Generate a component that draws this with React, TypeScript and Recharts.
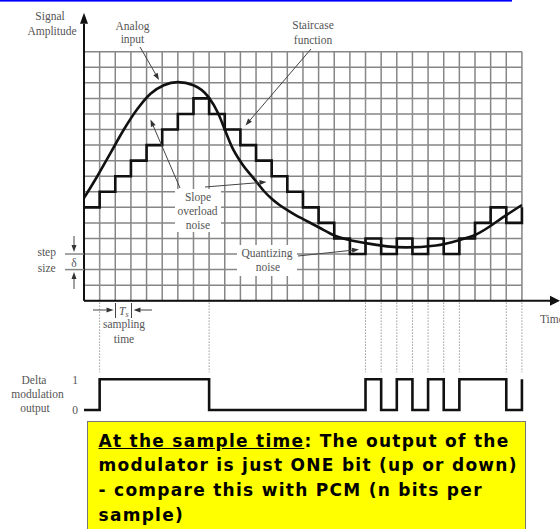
import React from "react";
import { ComposedChart, Line, XAxis, YAxis, ReferenceLine } from "recharts";

// sampling instants, one grid column per Ts
const sampleK = [0, 1, 2, 3, 4, 5, 6, 7, 8, 9, 10, 11, 12, 13, 14, 15, 16, 17, 18, 19, 20, 21, 22, 23, 24, 25, 26, 27, 28];
// staircase level (in step sizes) held from each sample to the next
const staircase = [6, 7, 8, 9, 10, 11, 12, 13, 12, 11, 10, 9, 8, 7, 6, 5, 4, 3, 4, 3, 4, 3, 4, 3, 4, 5, 6, 5, 6];
// delta modulator output bit for each sample period
const deltaBits = [0, 1, 1, 1, 1, 1, 1, 1, 0, 0, 0, 0, 0, 0, 0, 0, 0, 0, 1, 0, 1, 0, 1, 0, 1, 1, 1, 0, 1];

// analog input, in grid units
const analogK = [0, 0.85, 1.7, 2.55, 3.4, 4.25, 5.1, 6.0, 7.0, 7.95, 8.6, 9.0, 9.45, 10.1, 10.9, 11.5, 12.0, 12.5, 13.0, 13.5, 14.1, 15.0, 16.0, 18.0, 20.6, 22.5, 24.0, 25.0, 27.0, 28.0];
const analogAmp = [6.6, 8.0, 9.5, 11.0, 12.3, 13.3, 13.85, 14.05, 13.85, 13.1, 12.0, 11.0, 9.9, 8.8, 7.8, 7.05, 6.55, 6.15, 5.82, 5.52, 5.2, 4.72, 4.2, 3.7, 3.43, 3.55, 3.9, 4.22, 5.5, 6.15];

// samples where the output bit changes, marked with dotted guides
const transitionK = [1, 8, 18, 19, 20, 21, 22, 23, 24, 27, 28];

const gridRows = [0, 1, 2, 3, 4, 5, 6, 7, 8, 9, 10, 11, 12, 13, 14, 15, 16];
const gridCols = sampleK;

// page geometry
const W = 560;
const H = 529;
const ORIGIN_X = 84;
const ORIGIN_Y = 300.7;
const CELL_X = 15.64;
const CELL_Y = 15.56;
const BIT_LOW_Y = 410;
const BIT_HIGH_Y = 379.3;

const xDomain: [number, number] = [-ORIGIN_X / CELL_X, (W - ORIGIN_X) / CELL_X];
const ampDomain: [number, number] = [-(H - ORIGIN_Y) / CELL_Y, ORIGIN_Y / CELL_Y];
const bitPx = BIT_LOW_Y - BIT_HIGH_Y;
const bitDomain: [number, number] = [-(H - BIT_LOW_Y) / bitPx, BIT_LOW_Y / bitPx];

const stairData = sampleK.map((k, i) => ({ k, level: staircase[i] }));
const bitData = sampleK.map((k, i) => ({ k, bit: deltaBits[i] }));
const analogData = analogK.map((k, i) => ({ k, amp: analogAmp[i] }));

const INK = "#111";
const GRID = "#868686";
const NOTE = "#555";

function headPoints(x1: number, y1: number, x2: number, y2: number, len: number, wid: number) {
  const d = Math.hypot(x2 - x1, y2 - y1) || 1;
  const ux = (x2 - x1) / d;
  const uy = (y2 - y1) / d;
  const bx = x2 - ux * len;
  const by = y2 - uy * len;
  return {
    bx,
    by,
    pts: `${x2},${y2} ${bx - (uy * wid) / 2},${by + (ux * wid) / 2} ${bx + (uy * wid) / 2},${by - (ux * wid) / 2}`,
  };
}

// axis line with a filled head, used as a ReferenceLine shape
const axisArrow = (len: number, wid: number) => (p: any) => {
  const { bx, by, pts } = headPoints(p.x1, p.y1, p.x2, p.y2, len, wid);
  return (
    <g>
      <line x1={p.x1} y1={p.y1} x2={bx} y2={by} stroke={INK} strokeWidth={2} />
      <polygon points={pts} fill={INK} />
    </g>
  );
};

function Pointer({ x1, y1, x2, y2 }: { x1: number; y1: number; x2: number; y2: number }) {
  const { bx, by, pts } = headPoints(x1, y1, x2, y2, 7, 5);
  return (
    <g>
      <line x1={x1} y1={y1} x2={bx} y2={by} stroke="#444" strokeWidth={1} />
      <polygon points={pts} fill="#333" />
    </g>
  );
}

function Note({ x, y, children, anchor = "middle" }: { x: number; y: number; children: React.ReactNode; anchor?: "middle" | "start" }) {
  return (
    <text x={x} y={y} textAnchor={anchor} fontFamily="'Liberation Serif', serif" fontSize={11.5} fill={NOTE}>
      {children}
    </text>
  );
}

function Annotations() {
  return (
    <svg width={W} height={H} style={{ position: "absolute", left: 0, top: 0, pointerEvents: "none" }}>
      <rect x={0} y={0} width={512} height={1.6} fill="#0000ff" />

      <Note x={50} y={20}>Signal</Note>
      <Note x={52} y={34.5}>Amplitude</Note>

      <Note x={132.5} y={29.5}>Analog</Note>
      <Note x={132.5} y={43}>input</Note>
      <Pointer x1={140} y1={47} x2={159} y2={80} />

      <Note x={313} y={29}>Staircase</Note>
      <Note x={313} y={43.5}>function</Note>
      <Pointer x1={311} y1={49} x2={245.5} y2={125.5} />

      <rect x={175} y={189} width={46} height={43} fill="#fff" />
      <Note x={198} y={200.5}>Slope</Note>
      <Note x={197.5} y={215}>overload</Note>
      <Note x={198} y={229}>noise</Note>
      <Pointer x1={180} y1={188} x2={150.5} y2={119.5} />
      <Pointer x1={205} y1={187} x2={266.5} y2={182} />

      <rect x={237} y={245} width={60} height={31} fill="#fff" />
      <Note x={267} y={256.5}>Quantizing</Note>
      <Note x={268} y={271}>noise</Note>
      <Pointer x1={298} y1={256} x2={359} y2={249.5} />

      <Note x={46.7} y={256}>step</Note>
      <Note x={46.7} y={272}>size</Note>
      <line x1={65} y1={254} x2={84} y2={254} stroke={GRID} strokeWidth={1.5} />
      <line x1={65} y1={269.6} x2={84} y2={269.6} stroke={GRID} strokeWidth={1.5} />
      <Note x={74} y={266.5}>δ</Note>
      <Pointer x1={74} y1={236} x2={74} y2={252} />
      <Pointer x1={74} y1={289} x2={74} y2={272} />

      <Pointer x1={93} y1={310} x2={113.5} y2={310} />
      <line x1={115.5} y1={303} x2={115.5} y2={318} stroke="#444" strokeWidth={1} />
      <text x={119} y={315} fontFamily="'Liberation Serif', serif" fontSize={11.5} fill={NOTE} fontStyle="italic">
        T<tspan fontSize={8} dy={2}>s</tspan>
      </text>
      <line x1={131.5} y1={303} x2={131.5} y2={318} stroke="#444" strokeWidth={1} />
      <Pointer x1={152} y1={310} x2={133.5} y2={310} />
      <Note x={124} y={327.5}>sampling</Note>
      <Note x={124} y={342.5}>time</Note>

      <Note x={540} y={323} anchor="start">Time</Note>

      <Note x={34} y={383.5}>Delta</Note>
      <Note x={37.5} y={398}>modulation</Note>
      <Note x={35} y={412}>output</Note>
      <Note x={75} y={384}>1</Note>
      <Note x={75} y={414}>0</Note>
    </svg>
  );
}

function NoteBox() {
  return (
    <div
      style={{
        position: "absolute",
        left: 87,
        top: 420.7,
        width: 439,
        height: 130,
        boxSizing: "border-box",
        background: "#ffff00",
        border: "1.5px solid #777",
        padding: "6.9px 0 0 10.5px",
        fontFamily: "'DejaVu Sans', Verdana, sans-serif",
        fontWeight: "bold",
        fontSize: 17,
        letterSpacing: 1.28,
        lineHeight: "24.7px",
        whiteSpace: "nowrap",
        color: "#000",
      }}
    >
      <span style={{ textDecoration: "underline" }}>At the sample time</span>: The output of the
      <br />
      modulator is just ONE bit (up or down)
      <br />- compare this with PCM (n bits per
      <br />
      sample)
    </div>
  );
}

export default function App() {
  return (
    <div style={{ position: "absolute", left: 0, top: 0, width: W, height: H, overflow: "hidden", background: "#fff" }}>
      <ComposedChart width={W} height={H} margin={{ top: 0, right: 0, bottom: 0, left: 0 }}>
        <XAxis type="number" dataKey="k" domain={xDomain} allowDataOverflow hide />
        <YAxis yAxisId="amp" type="number" domain={ampDomain} allowDataOverflow hide />
        <YAxis yAxisId="bit" type="number" domain={bitDomain} allowDataOverflow hide />

        {gridRows.map((j) => (
          <ReferenceLine
            key={`r${j}`}
            yAxisId="amp"
            ifOverflow="visible"
            segment={[{ x: 0, y: j }, { x: 28, y: j }]}
            stroke={GRID}
            strokeWidth={1.5}
          />
        ))}
        {gridCols.map((k) => (
          <ReferenceLine
            key={`c${k}`}
            yAxisId="amp"
            ifOverflow="visible"
            segment={[{ x: k, y: 0 }, { x: k, y: 16 }]}
            stroke={GRID}
            strokeWidth={1.5}
          />
        ))}
        {transitionK.map((k) => (
          <ReferenceLine
            key={`t${k}`}
            yAxisId="amp"
            ifOverflow="visible"
            segment={[{ x: k, y: 13 }, { x: k, y: -4.6 }]}
            stroke="#9a9a9a"
            strokeWidth={1}
            strokeDasharray="1.5 1.5"
          />
        ))}

        <ReferenceLine
          yAxisId="amp"
          ifOverflow="visible"
          segment={[{ x: 0, y: 0 }, { x: 0, y: 18.5 }]}
          shape={axisArrow(11, 8)}
        />
        <ReferenceLine
          yAxisId="amp"
          ifOverflow="visible"
          segment={[{ x: 0, y: 0 }, { x: xDomain[1], y: 0 }]}
          shape={axisArrow(10, 10)}
        />

        <Line
          yAxisId="amp"
          data={analogData}
          dataKey="amp"
          type="monotone"
          stroke={INK}
          strokeWidth={2.6}
          dot={false}
          activeDot={false}
          isAnimationActive={false}
        />
        <Line
          yAxisId="amp"
          data={stairData}
          dataKey="level"
          type="stepAfter"
          stroke={INK}
          strokeWidth={2.6}
          dot={false}
          activeDot={false}
          isAnimationActive={false}
        />
        <Line
          yAxisId="bit"
          data={bitData}
          dataKey="bit"
          type="stepAfter"
          stroke={INK}
          strokeWidth={2.6}
          dot={false}
          activeDot={false}
          isAnimationActive={false}
        />
      </ComposedChart>
      <Annotations />
      <NoteBox />
    </div>
  );
}
